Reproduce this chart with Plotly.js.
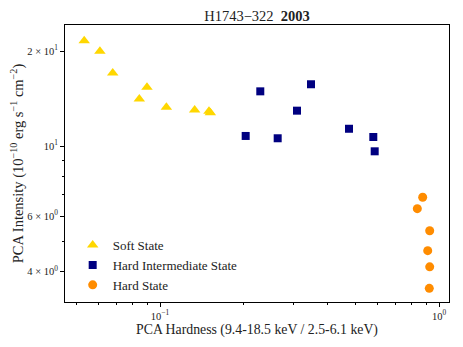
<!DOCTYPE html>
<html>
<head>
<meta charset="utf-8">
<script src="https://cdn.plot.ly/plotly-3.0.1.min.js"></script>
<style>
  body { margin: 0; padding: 0; background: #fff; }
  #chart { width: 463px; height: 347px; }
</style>
</head>
<body>
<div id="chart"></div>
<script>
// Data (hardness vs intensity)
var softHardness = [0.0535, 0.0609, 0.0677, 0.0843, 0.0898, 0.1054, 0.1331, 0.1498, 0.1515];
var softIntensity = [21.56, 19.96, 17.03, 14.09, 15.35, 13.26, 13.00, 12.88, 12.75];

var himsHardness = [0.2028, 0.2288, 0.2641, 0.3097, 0.3477, 0.4758, 0.5814, 0.5881];
var himsIntensity = [10.76, 14.90, 10.58, 12.94, 15.69, 11.34, 10.68, 9.62];

var hardHardness = [0.874, 0.836, 0.926, 0.911, 0.926, 0.923];
var hardIntensity = [6.88, 6.33, 5.39, 4.66, 4.14, 3.54];

var yTickVals = [4, 6, 10, 20];
var yTickText = ['4 × 10<sup>0</sup>', '6 × 10<sup>0</sup>', '10<sup>1</sup>', '2 × 10<sup>1</sup>'];
var yMinorVals = [5, 7, 8, 9];
var xTickVals = [0.1, 1];
var xTickText = ['10<sup>−1</sup>', '10<sup>0</sup>'];
var xMinorVals = [0.05, 0.06, 0.07, 0.08, 0.09, 0.2, 0.3, 0.4, 0.5, 0.6, 0.7, 0.8, 0.9];

var serif = 'Liberation Serif, serif';

var traces = [
  {
    x: softHardness, y: softIntensity, mode: 'markers', type: 'scatter',
    name: 'Soft State',
    marker: {symbol: 'triangle-up', size: 10, color: '#FFD700'}
  },
  {
    x: himsHardness, y: himsIntensity, mode: 'markers', type: 'scatter',
    name: 'Hard Intermediate State',
    marker: {symbol: 'square', size: 8, color: '#000080'}
  },
  {
    x: hardHardness, y: hardIntensity, mode: 'markers', type: 'scatter',
    name: 'Hard State',
    marker: {symbol: 'circle', size: 9, color: '#FF8C00'}
  }
];

var layout = {
  width: 463, height: 347,
  margin: {l: 65, r: 14, t: 25, b: 45},
  paper_bgcolor: '#fff', plot_bgcolor: '#fff',
  font: {family: serif, size: 12, color: '#222'},
  title: {
    text: 'H1743−322  <b>2003</b>',
    font: {family: serif, size: 14.5, color: '#222'},
    x: 0.5, xanchor: 'center', xref: 'paper', y: 0.955, yanchor: 'middle'
  },
  showlegend: true,
  legend: {
    x: 0.02, y: 0.007, xanchor: 'left', yanchor: 'bottom',
    bgcolor: 'rgba(0,0,0,0)', font: {family: serif, size: 13, color: '#222'},
    tracegroupgap: 0, itemwidth: 30
  },
  xaxis: {
    type: 'log', range: [-1.3405, 0.0358],
    showgrid: false, zeroline: false,
    showline: true, mirror: true, linecolor: '#000', linewidth: 1,
    ticks: 'outside', ticklen: 4, tickcolor: '#000',
    tickmode: 'array', tickvals: xTickVals, ticktext: xTickText,
    tickfont: {family: serif, size: 10.5, color: '#222'},
    minor: {tickmode: 'array', tickvals: xMinorVals, ticklen: 2, tickcolor: '#000', showgrid: false},
    title: {text: 'PCA Hardness (9.4-18.5 keV / 2.5-6.1 keV)', font: {family: serif, size: 13.8, color: '#222'}, standoff: 0}
  },
  yaxis: {
    type: 'log', range: [0.5057, 1.3834],
    showgrid: false, zeroline: false,
    showline: true, mirror: true, linecolor: '#000', linewidth: 1,
    ticks: 'outside', ticklen: 4, tickcolor: '#000',
    tickmode: 'array', tickvals: yTickVals, ticktext: yTickText,
    tickfont: {family: serif, size: 10.5, color: '#222'},
    minor: {tickmode: 'array', tickvals: yMinorVals, ticklen: 2, tickcolor: '#000', showgrid: false},
    title: {text: 'PCA Intensity (10<sup>−10</sup> erg s<sup>−1</sup> cm<sup>−2</sup>)', font: {family: serif, size: 14.5, color: '#222'}, standoff: 0}
  }
};

Plotly.newPlot('chart', traces, layout, {staticPlot: true});
</script>
</body>
</html>
